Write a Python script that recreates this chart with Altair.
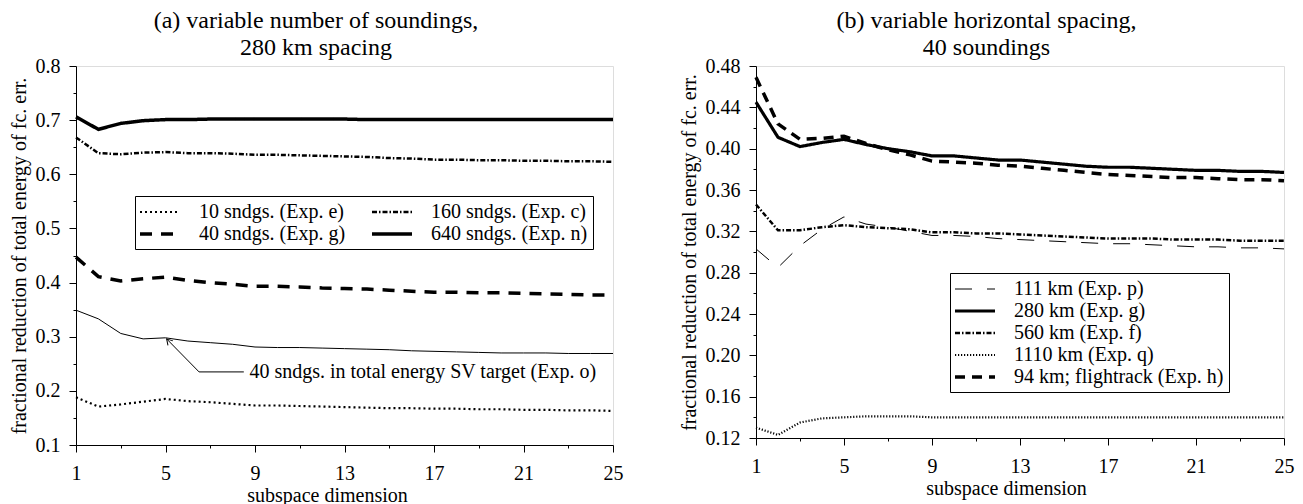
import altair as alt
import pandas as pd
import json

FONT = "Liberation Serif"

# ---------------- data ----------------
dims = list(range(1, 26))

# panel (a): variable number of soundings, 280 km spacing
a_series = ["10 sndgs. (Exp. e)", "40 sndgs. (Exp. g)", "160 sndgs. (Exp. c)", "640 sndgs. (Exp. n)"]
a_e10 = [0.188, 0.171, 0.175, 0.180, 0.185, 0.181, 0.179, 0.176, 0.173, 0.173, 0.172, 0.171, 0.170,
         0.169, 0.168, 0.168, 0.167, 0.167, 0.166, 0.166, 0.165, 0.165, 0.164, 0.164, 0.163]
a_g40 = [0.447, 0.411, 0.403, 0.407, 0.410, 0.404, 0.400, 0.397, 0.393, 0.393, 0.392, 0.390, 0.389,
         0.388, 0.386, 0.384, 0.382, 0.382, 0.381, 0.381, 0.380, 0.379, 0.378, 0.377, 0.377]
a_c160 = [0.668, 0.639, 0.637, 0.640, 0.641, 0.639, 0.639, 0.638, 0.636, 0.636, 0.635, 0.634, 0.633,
          0.632, 0.630, 0.629, 0.627, 0.627, 0.626, 0.626, 0.625, 0.625, 0.624, 0.624, 0.623]
a_n640 = [0.706, 0.683, 0.694, 0.699, 0.701, 0.701, 0.702, 0.702, 0.702, 0.702, 0.702, 0.702, 0.702,
          0.701, 0.701, 0.701, 0.701, 0.701, 0.701, 0.701, 0.701, 0.701, 0.701, 0.701, 0.701]
a_o40 = [0.349, 0.333, 0.306, 0.296, 0.298, 0.292, 0.289, 0.286, 0.281, 0.280, 0.280, 0.279, 0.278,
         0.277, 0.276, 0.274, 0.273, 0.272, 0.271, 0.270, 0.270, 0.270, 0.269, 0.269, 0.269]
a_dash = [[2, 3], [12, 9], [5, 2, 1.5, 2], [1, 0]]
a_width = [2.2, 3.5, 2.5, 3.5]

# annotation for Exp. o
ann_label = "40 sndgs. in total energy SV target (Exp. o)"
ann_x = [5.05, 6.5, 8.5]
ann_y = [0.296, 0.235, 0.235]

# panel (b): variable horizontal spacing, 40 soundings
b_series = ["111 km (Exp. p)", "280 km (Exp. g)", "560 km (Exp. f)", "1110 km (Exp. q)",
            "94 km; flightrack (Exp. h)"]
b_p111 = [0.303, 0.285, 0.306, 0.322, 0.334, 0.327, 0.324, 0.320, 0.316, 0.316, 0.315, 0.313, 0.312,
          0.311, 0.310, 0.309, 0.308, 0.308, 0.307, 0.306, 0.305, 0.305, 0.304, 0.304, 0.303]
b_g280 = [0.445, 0.411, 0.402, 0.406, 0.409, 0.404, 0.400, 0.397, 0.393, 0.393, 0.391, 0.389, 0.389,
          0.387, 0.385, 0.383, 0.382, 0.382, 0.381, 0.380, 0.379, 0.379, 0.378, 0.378, 0.377]
b_f560 = [0.346, 0.321, 0.321, 0.324, 0.326, 0.324, 0.323, 0.322, 0.319, 0.319, 0.318, 0.318, 0.317,
          0.316, 0.315, 0.314, 0.313, 0.313, 0.313, 0.312, 0.312, 0.312, 0.311, 0.311, 0.311]
b_q1110 = [0.130, 0.123, 0.135, 0.139, 0.140, 0.141, 0.141, 0.141, 0.140, 0.140, 0.140, 0.140, 0.140,
           0.140, 0.140, 0.140, 0.140, 0.140, 0.140, 0.140, 0.140, 0.140, 0.140, 0.140, 0.140]
b_h94 = [0.469, 0.424, 0.409, 0.410, 0.412, 0.405, 0.399, 0.394, 0.388, 0.387, 0.386, 0.384, 0.383,
         0.381, 0.379, 0.377, 0.375, 0.374, 0.373, 0.372, 0.372, 0.371, 0.370, 0.370, 0.369]
b_dash = [[17, 15], [1, 0], [5, 2, 1.5, 2], [1.2, 1.8], [10, 7]]
b_width = [1.0, 3.2, 2.5, 2.2, 3.5]

a_major = [0.1, 0.2, 0.3, 0.4, 0.5, 0.6, 0.7, 0.8]
a_minor = [0.15, 0.25, 0.35, 0.45, 0.55, 0.65, 0.75]
b_major = [0.12, 0.16, 0.20, 0.24, 0.28, 0.32, 0.36, 0.40, 0.44, 0.48]
b_minor = [0.14, 0.18, 0.22, 0.26, 0.30, 0.34, 0.38, 0.42, 0.46]
x_major = [1, 5, 9, 13, 17, 21, 25]
x_minor = [3, 7, 11, 15, 19, 23]

YTITLE = "fractional reduction of total energy of fc. err."


def long_df(series, arrays, widths):
    rows = []
    for s, arr, w in zip(series, arrays, widths):
        for d, v in zip(dims, arr):
            rows.append({"x": d, "y": v, "series": s, "w": w})
    return pd.DataFrame(rows)


def legend(series, widths, legx, legy, cols):
    s_js, w_js = json.dumps(series), json.dumps(widths)
    expr = ("((isObject(datum) && indexof(%s, datum.value) >= 0) ? %s[indexof(%s, datum.value)] : 2)"
            % (s_js, w_js, s_js))
    return alt.Legend(title=None, orient="none", legendX=legx, legendY=legy,
                      columns=cols, symbolType="M-2,0L2,0", symbolSize=400,
                      symbolOffset=9, symbolStrokeColor="black",
                      symbolStrokeWidth=alt.ExprRef(expr=expr),
                      symbolFillColor="transparent",
                      labelFont=FONT, labelFontSize=20, labelColor="black", labelLimit=0,
                      fillColor="white", strokeColor="black", padding=5, rowPadding=1,
                      columnPadding=19, labelOffset=28)


def panel(df, series, dashes, widths, ydom, ymajor, yminor, yfmt, title, w, h,
          legx, legy, cols, xtitle_x, extra=None):
    xs = alt.Scale(domain=[1, 25], nice=False, zero=False)
    ys = alt.Scale(domain=ydom, nice=False, zero=False)
    common = dict(labelFont=FONT, titleFont=FONT, labelFontSize=20, titleFontSize=20,
                  titleFontWeight="normal", labelColor="black", titleColor="black",
                  domainColor="black", tickColor="black", grid=False, labelFlush=False)
    lines = alt.Chart(df).mark_line(color="black", strokeCap="butt").encode(
        x=alt.X("x:Q", scale=xs,
                axis=alt.Axis(values=x_major, format="d", tickSize=7, labelPadding=11,
                              title="subspace dimension", titlePadding=2, titleX=xtitle_x,
                              orient="bottom", **common)),
        y=alt.Y("y:Q", scale=ys,
                axis=alt.Axis(values=ymajor, format=yfmt, tickSize=7, labelPadding=9,
                              title=YTITLE, titlePadding=6, orient="left", **common)),
        strokeDash=alt.StrokeDash("series:N", scale=alt.Scale(domain=series, range=dashes),
                                  legend=legend(series, widths, legx, legy, cols)),
        strokeWidth=alt.StrokeWidth("w:Q", scale=None, legend=None),
    )
    minor = alt.Chart(df).mark_point(opacity=0).encode(
        x=alt.X("x:Q", scale=xs,
                axis=alt.Axis(values=x_minor, labels=False, tickSize=3, domain=False,
                              title=None, orient="bottom", tickColor="black", grid=False)),
        y=alt.Y("y:Q", scale=ys,
                axis=alt.Axis(values=yminor, labels=False, tickSize=3, domain=False,
                              title=None, orient="left", tickColor="black", grid=False)),
    )
    layers = [lines, minor]
    if extra is not None:
        layers += extra(xs, ys)
    return alt.layer(*layers).resolve_axis(x="independent", y="independent").properties(
        width=w, height=h,
        title=alt.TitleParams(title, font=FONT, fontSize=24, fontWeight="normal",
                              color="black", anchor="middle", frame="bounds",
                              lineHeight=27, offset=-4),
    )


df_a = long_df(a_series, [a_e10, a_g40, a_c160, a_n640], a_width)
df_o = pd.DataFrame({"x": dims, "y": a_o40})
df_ann = pd.DataFrame({"x": ann_x, "y": ann_y, "order": [0, 1, 2]})
df_txt = pd.DataFrame({"x": [ann_x[-1] + 0.25], "y": [ann_y[-1]], "label": [ann_label]})
df_tip = df_ann.iloc[[0]]


def extra_a(xs, ys):
    X = alt.X("x:Q", scale=xs, axis=None)
    Y = alt.Y("y:Q", scale=ys, axis=None)
    o_line = alt.Chart(df_o).mark_line(color="black", strokeWidth=1).encode(x=X, y=Y)
    leader = alt.Chart(df_ann).mark_line(color="black", strokeWidth=1).encode(
        x=X, y=Y, order="order:Q")
    tip = alt.Chart(df_tip).mark_point(
        shape="M-0.7,1.2L0,0L0.7,1.2", filled=False, color="black", strokeWidth=1,
        size=90, angle=318, opacity=1).encode(x=X, y=Y)
    txt = alt.Chart(df_txt).mark_text(
        align="left", baseline="middle", font=FONT, fontSize=20, color="black").encode(
        x=X, y=Y, text="label:N")
    return [o_line, leader, tip, txt]


df_b = long_df(b_series, [b_p111, b_g280, b_f560, b_q1110, b_h94], b_width)

left = panel(df_a, a_series, a_dash, a_width, [0.1, 0.8], a_major, a_minor, ".1f",
             ["(a) variable number of soundings,", "280 km spacing"], 537, 379,
             59, 130, 2, 251, extra=extra_a)
right = panel(df_b, b_series, b_dash, b_width, [0.12, 0.48], b_major, b_minor, ".2f",
              ["(b) variable horizontal spacing,", "40 soundings"], 528, 372,
              194, 207, 1, 250)

chart = alt.hconcat(left, right, spacing=54).resolve_scale(
    strokeDash="independent").resolve_legend(
    strokeDash="independent").properties(padding=0).configure_view(
    stroke="black", strokeWidth=1).configure(font=FONT).configure_axis(
    labelFont=FONT, titleFont=FONT).configure_legend(labelFont=FONT)

chart.save("out.html", embed_options={"renderer": "svg", "actions": False})
